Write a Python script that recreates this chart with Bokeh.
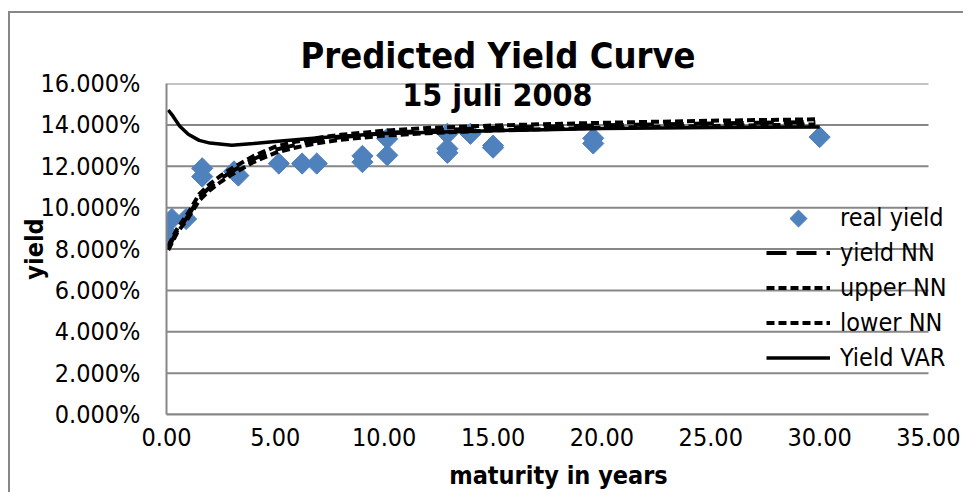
import numpy as np
from bokeh.plotting import figure
from bokeh.models import (Range1d, FixedTicker, NumeralTickFormatter, Legend,
                          LegendItem, Label, Title, InlineStyleSheet)
from bokeh.embed import file_html
from bokeh.resources import INLINE

FONT = "DejaVu Sans Condensed"

# ---- data (yields in percent) ----
real_x = [0.05, 0.25, 0.9, 1.64, 1.64, 3.1, 3.3, 5.16, 6.23, 6.9, 9.0, 9.0,
          10.14, 10.14, 12.9, 12.9, 12.9, 13.96, 15.0, 15.0, 19.6, 19.6, 30.0]
real_yield = [8.77, 9.45, 9.45, 11.9, 11.5, 11.75, 11.55, 12.13, 12.13, 12.13,
              12.5, 12.2, 13.33, 12.53, 13.57, 12.85, 12.65, 13.57, 13.0, 12.9,
              13.35, 13.1, 13.41]

nn_x = [0.08, 0.5, 1.0, 1.5, 2.0, 2.5, 3.0, 4.0, 5.0, 6.0, 7.0, 8.0, 10.0,
        12.0, 15.0, 20.0, 25.0, 29.8]
yield_nn = [8.05, 8.9, 9.6, 10.5, 11.0, 11.4, 11.75, 12.35, 12.8, 13.05, 13.25,
            13.4, 13.6, 13.72, 13.85, 13.98, 14.07, 14.14]
upper_nn = [8.15, 9.0, 9.75, 10.65, 11.15, 11.55, 11.9, 12.5, 12.95, 13.2,
            13.38, 13.52, 13.72, 13.85, 13.97, 14.1, 14.2, 14.27]
lower_nn = [7.95, 8.8, 9.5, 10.35, 10.85, 11.25, 11.6, 12.2, 12.65, 12.92,
            13.12, 13.28, 13.48, 13.6, 13.73, 13.86, 13.95, 14.02]

var_x = [0.08, 0.3, 0.6, 1.0, 1.5, 2.0, 3.0, 4.0, 5.0, 7.0, 10.0, 15.0, 20.0,
         25.0, 30.0]
yield_var = [14.72, 14.42, 13.95, 13.55, 13.25, 13.12, 13.02, 13.1, 13.2, 13.38,
             13.58, 13.72, 13.82, 13.87, 13.9]

x_ticks = [0, 5, 10, 15, 20, 25, 30, 35]
y_ticks = [0, 2, 4, 6, 8, 10, 12, 14, 16]


def frac(v):
    return [a / 100.0 for a in v]


GRAY = "#878787"
BLUE = "#4F81BD"

# layout (pixels)
W, H = 963, 492
FL, FR, FT, FB = 166, 950, 83, 415          # frame edges on the canvas
AXIS_END_PX = 928                             # where 35.00 sits
X_MAX = x_ticks[-1] * (FR - FL) / (AXIS_END_PX - FL)
PX_PER_X = (FR - FL) / X_MAX
PX_PER_Y = (FB - FT) / (y_ticks[-1] / 100.0)

# outer chart-area border (left and top edges visible)
frame_css = InlineStyleSheet(css="""
:host { position: relative; }
:host::after {
  content: ""; position: absolute; left: 8px; top: 11px;
  width: calc(100% - 8px); height: calc(100% - 11px);
  border-left: 2px solid #878787; border-top: 2px solid #878787;
  box-sizing: border-box; pointer-events: none;
}
""")

p = figure(width=W, height=H, output_backend="svg", toolbar_location=None,
           x_range=Range1d(0, X_MAX), y_range=Range1d(0, y_ticks[-1] / 100.0),
           min_border_left=FL, min_border_right=W - FR, min_border_top=FT,
           min_border_bottom=H - FB, stylesheets=[frame_css])
p.outline_line_color = None
p.background_fill_color = "white"
p.border_fill_color = "white"

# horizontal gridlines only across 0..35
p.xgrid.visible = False
p.ygrid.visible = False
gy = frac(y_ticks)
p.segment(x0=[x_ticks[0]] * len(gy), x1=[x_ticks[-1]] * len(gy), y0=gy, y1=gy,
          line_color=GRAY, line_width=2, level="underlay")

p.xaxis.ticker = FixedTicker(ticks=x_ticks)
p.xaxis.formatter = NumeralTickFormatter(format="0.00")
p.xaxis.bounds = (x_ticks[0], x_ticks[-1])
p.yaxis.ticker = FixedTicker(ticks=gy)
p.yaxis.formatter = NumeralTickFormatter(format="0.000%")

for ax in (p.xaxis, p.yaxis):
    ax.axis_line_color = GRAY
    ax.axis_line_width = 2
    ax.major_tick_line_color = None
    ax.minor_tick_line_color = None
    ax.major_label_text_font = FONT
    ax.major_label_text_font_size = "25px"
    ax.major_label_text_color = "black"
    ax.axis_label_text_font = FONT
    ax.axis_label_text_font_size = "25px"
    ax.axis_label_text_font_style = "bold"
    ax.axis_label_text_color = "black"

p.xaxis.axis_label = "maturity in years"
p.xaxis.major_label_standoff = 7
p.xaxis.axis_label_standoff = 12
p.yaxis.axis_label = "yield"
p.yaxis.major_label_standoff = 20
p.yaxis.axis_label_standoff = -12

r_real = p.scatter(real_x, frac(real_yield), marker="square", angle=np.pi / 4,
                   size=15, fill_color=BLUE, line_color=BLUE)
r_nn = p.line(nn_x, frac(yield_nn), line_color="black", line_width=4,
              line_dash="20 10")
r_up = p.line(nn_x, frac(upper_nn), line_color="black", line_width=4,
              line_dash="8 4")
r_lo = p.line(nn_x, frac(lower_nn), line_color="black", line_width=4,
              line_dash="8 4")
r_var = p.line(var_x, frac(yield_var), line_color="black", line_width=3.5)

# legend geometry
LEG_X, LEG_Y = 600, 42
GLYPH_W, ROW_H, SPACING, N_ITEMS = 64, 29, 6, 5

# invisible key renderer for "real yield"; the diamond key is drawn below
r_key = p.scatter([], [], marker="square", fill_alpha=0, line_alpha=0)

legend = Legend(items=[
    LegendItem(label="real yield", renderers=[r_key]),
    LegendItem(label="yield NN", renderers=[r_nn]),
    LegendItem(label="upper NN", renderers=[r_up]),
    LegendItem(label="lower NN", renderers=[r_lo]),
    LegendItem(label="Yield VAR", renderers=[r_var]),
], location=(LEG_X, LEG_Y))
legend.background_fill_alpha = 0
legend.border_line_alpha = 0
legend.padding = 0
legend.margin = 0
legend.spacing = SPACING
legend.glyph_width = GLYPH_W
legend.glyph_height = ROW_H
legend.label_height = ROW_H
legend.label_standoff = 10
legend.label_text_font = FONT
legend.label_text_font_size = "25px"
legend.label_text_color = "black"
p.add_layout(legend)

key_x = (LEG_X + GLYPH_W / 2) / PX_PER_X
key_y = (LEG_Y + N_ITEMS * ROW_H + (N_ITEMS - 1) * SPACING - ROW_H / 2) / PX_PER_Y
p.scatter([key_x], [key_y], marker="square", angle=np.pi / 4, size=12,
          fill_color=BLUE, line_color=BLUE)

title = Title(text="Predicted Yield Curve", align="left", offset=134,
              text_font=FONT, text_font_style="bold", text_font_size="36px",
              text_color="black", standoff=15)
p.add_layout(title, "above")

p.add_layout(Label(x=15.2, y=0.1542, text="15 juli 2008",
                   text_align="center", text_baseline="middle",
                   text_font=FONT, text_font_style="bold",
                   text_font_size="32px", text_color="black"))

open("out.html", "w").write(file_html(p, INLINE))
